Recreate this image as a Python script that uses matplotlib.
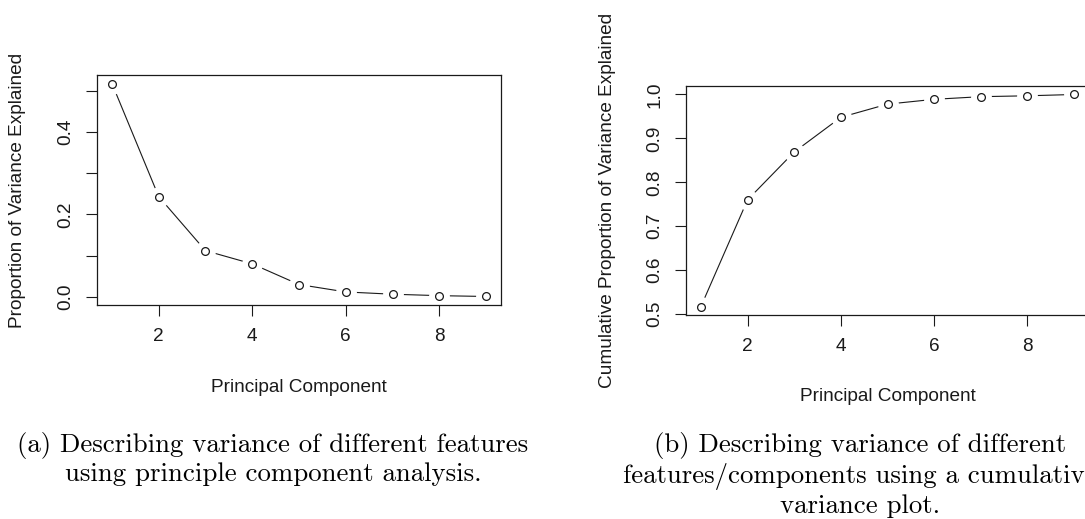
import numpy as np
import matplotlib.pyplot as plt

#-------------- data --------------
components = [1, 2, 3, 4, 5, 6, 7, 8, 9]
pve = [0.517, 0.243, 0.112, 0.080, 0.030, 0.012, 0.0065, 0.003, 0.001]
cum_pve = [0.517, 0.760, 0.869, 0.948, 0.978, 0.989, 0.995, 0.997, 1.000]
x_ticks = [2, 4, 6, 8]
y_ticks_a = [0.0, 0.1, 0.2, 0.3, 0.4, 0.5]
y_labels_a = ['0.0', '', '0.2', '', '0.4', '']
y_ticks_b = [0.5, 0.6, 0.7, 0.8, 0.9, 1.0]
y_labels_b = ['0.5', '0.6', '0.7', '0.8', '0.9', '1.0']
caption_a = "(a) Describing variance of different features\nusing principle component analysis."
caption_b = "(b) Describing variance of different\nfeatures/components using a cumulative\nvariance plot."
#----------------------------------

plt.rcParams['font.family'] = ['Liberation Sans', 'DejaVu Sans']
FS = 13.7
INK = '#1a1a1a'

fig = plt.figure(figsize=(10.85, 5.19), dpi=100)
W, H = 1085, 519


def r_style_plot(ax, x, y, yticks, ylabels, ylabel):
    # R type="b": line with gaps around open circles
    ax.plot(x, y, color=INK, lw=0.8, zorder=1)
    ax.plot(x, y, ls='none', marker='o', ms=15, mfc='white', mec='none', zorder=2)
    ax.plot(x, y, ls='none', marker='o', ms=5.6, mfc='white', mec=INK, mew=0.9, zorder=3)
    ax.margins(x=0.04, y=0.04)
    ax.set_xticks(x_ticks)
    ax.set_xticklabels([str(t) for t in x_ticks])
    ax.set_yticks(yticks)
    ax.set_yticklabels(ylabels, rotation=90, va='center')
    ax.tick_params(axis='both', direction='out', length=7.8, width=0.8,
                   color=INK, labelsize=FS, labelcolor=INK, pad=8.5)
    for s in ax.spines.values():
        s.set_linewidth(0.9)
        s.set_color(INK)
        s.set_zorder(4)
    ax.text(0.5, -0.357, 'Principal Component', transform=ax.transAxes,
            ha='center', va='center', fontsize=FS, color=INK)
    ax.text(-0.196, 0.5, ylabel, transform=ax.transAxes, rotation=90,
            ha='center', va='center', fontsize=FS, color=INK)


#----------- left panel -----------
ax1 = fig.add_axes([97 / W, 1 - 305 / H, 404 / W, 230 / H])
r_style_plot(ax1, components, pve, y_ticks_a, y_labels_a,
             'Proportion of Variance Explained')

#----------- right panel (cropped at the right edge) -----------
ax2 = fig.add_axes([686 / W, 1 - 315 / H, 403 / W, 229 / H])
r_style_plot(ax2, components, cum_pve, y_ticks_b, y_labels_b,
             'Cumulative Proportion of Variance Explained')

#----------- captions -----------
fig.text(273 / W, 1 - 459 / H, caption_a, family='cmr10', fontsize=19.3,
         ha='center', va='center', multialignment='center', linespacing=1.2)
fig.text(860 / W, 1 - 475 / H, caption_b, family='cmr10', fontsize=19.3,
         ha='center', va='center', multialignment='center', linespacing=1.2)

fig.savefig('out.png', dpi=100)
